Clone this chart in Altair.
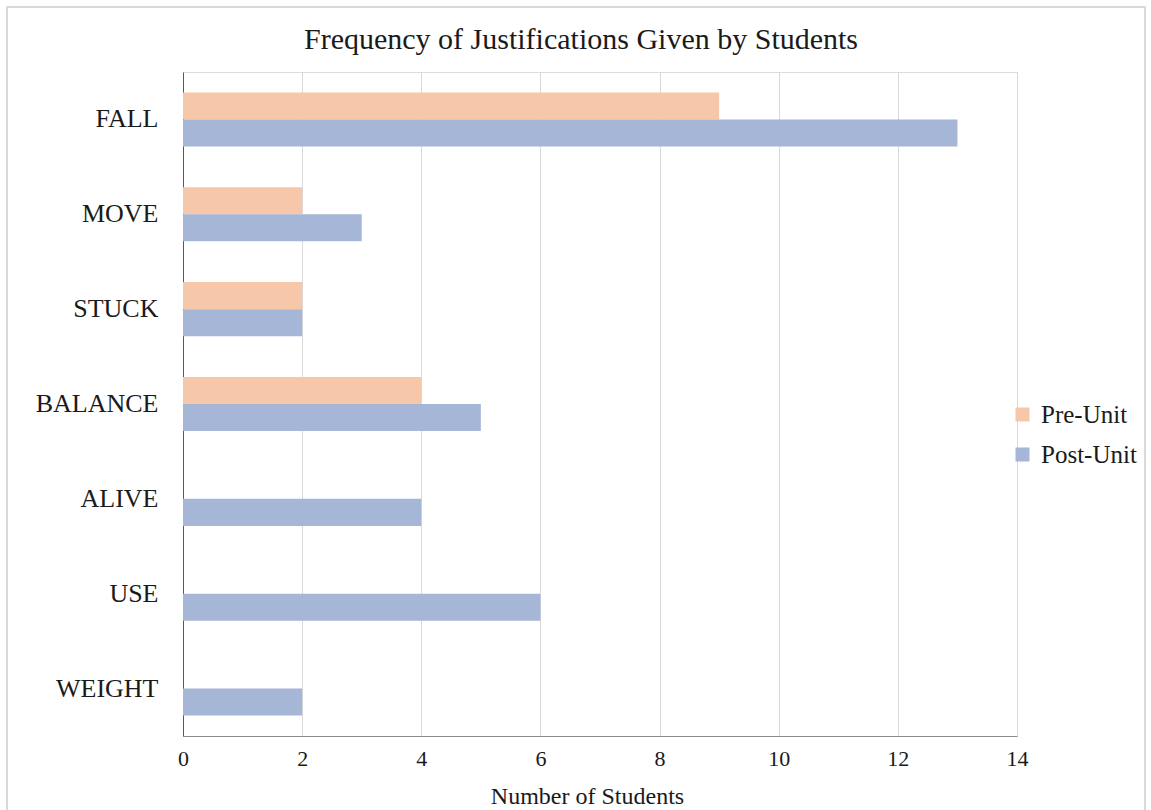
import altair as alt
import pandas as pd

categories = ["FALL", "MOVE", "STUCK", "BALANCE", "ALIVE", "USE", "WEIGHT"]
series = ["Pre-Unit", "Post-Unit"]
pre_unit = [9, 2, 2, 4, 0, 0, 0]
post_unit = [13, 3, 2, 5, 4, 6, 2]
x_ticks = [0, 2, 4, 6, 8, 10, 12, 14]
colors = ["#F7C7AA", "#A6B6D6"]

rows = []
for c, p, q in zip(categories, pre_unit, post_unit):
    rows.append({"category": c, "series": "Pre-Unit", "value": p})
    rows.append({"category": c, "series": "Post-Unit", "value": q})
df = pd.DataFrame(rows)

FONT = "Liberation Serif"
W, H = 834, 664

bars = alt.Chart(df).mark_bar().encode(
    y=alt.Y("category:N", sort=categories, title=None,
            scale=alt.Scale(paddingInner=0.43, paddingOuter=0.215),
            axis=alt.Axis(labelFontSize=26, labelPadding=25, ticks=False,
                          domainColor="#595959", labelColor="#1a1a1a",
                          labelFont=FONT, grid=False)),
    yOffset=alt.YOffset("series:N", sort=series),
    x=alt.X("value:Q", title="Number of Students",
            scale=alt.Scale(domain=[0, 14], nice=False),
            axis=alt.Axis(values=x_ticks, labelFontSize=22, labelPadding=12,
                          labelFlush=False,
                          ticks=False, domainColor="#8c8c8c", gridColor="#d9d9d9",
                          labelColor="#1a1a1a", labelFont=FONT,
                          titleFont=FONT, titleFontSize=24, titleFontWeight="normal",
                          titleColor="#1a1a1a", titlePadding=15, titleX=404,
                          labelAngle=0)),
    color=alt.Color("series:N", sort=series,
                    scale=alt.Scale(domain=series, range=colors),
                    legend=alt.Legend(title=None, orient="none", legendX=827, legendY=330,
                                      symbolType="square", symbolSize=196,
                                      symbolStrokeWidth=0, labelFont=FONT,
                                      labelFontSize=25, labelColor="#1a1a1a",
                                      rowPadding=14, labelOffset=6)),
)

border = alt.Chart(pd.DataFrame({"a": [0]})).mark_rect(
    fill=None, stroke="#d9d9d9", strokeWidth=2, clip=False
).encode(
    x=alt.value(-176), x2=alt.value(962), y=alt.value(-65), y2=alt.value(760)
)

chart = alt.layer(border, bars).properties(
    width=W, height=H,
    title=alt.TitleParams("Frequency of Justifications Given by Students",
                          font=FONT, fontSize=30, fontWeight="normal",
                          color="#1a1a1a", dx=-19, offset=-73, frame="group",
                          baseline="alphabetic"),
    autosize=alt.AutoSizeParams(type="none"),
    padding={"left": 183, "top": 72, "right": 134, "bottom": 74},
).configure_view(stroke=None).configure(background="white")

chart.save("out.html", embed_options={"renderer": "svg", "actions": False})
